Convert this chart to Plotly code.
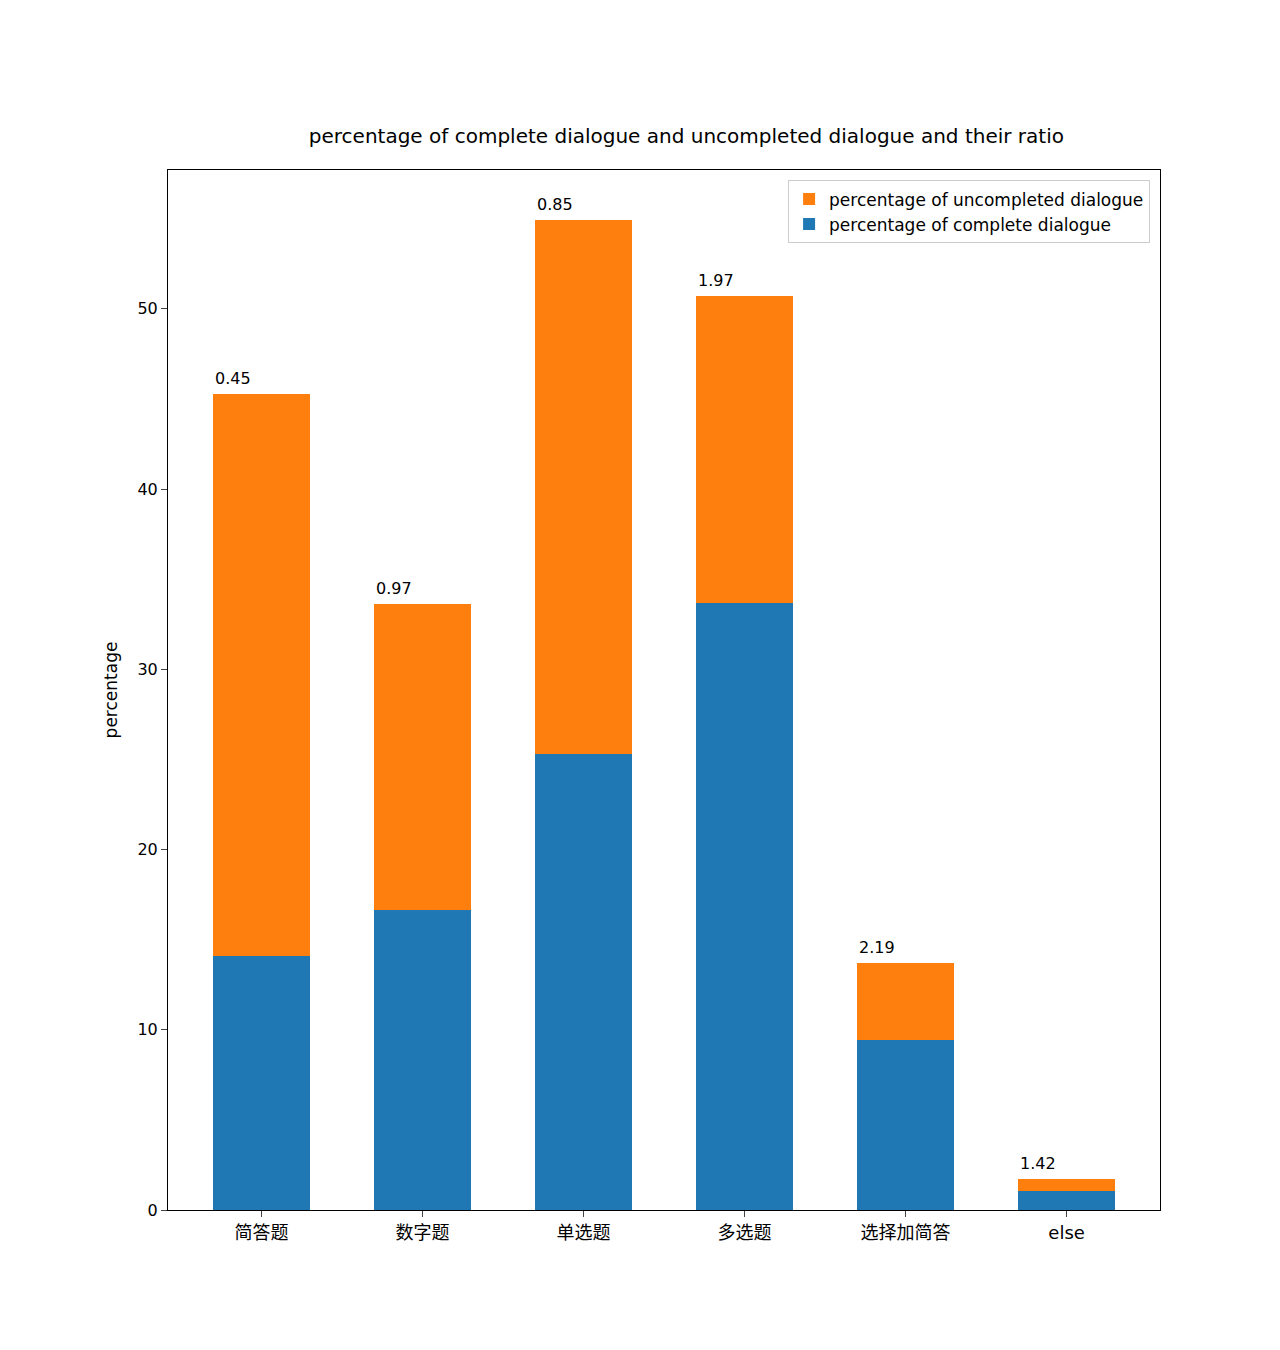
import plotly.graph_objects as go

categories = ["简答题", "数字题", "单选题", "多选题", "选择加简答", "else"]
complete = [14.1, 16.65, 25.3, 33.7, 9.43, 1.05]
uncompleted = [31.2, 16.95, 29.6, 17.0, 4.27, 0.67]
ratios = ["0.45", "0.97", "0.85", "1.97", "2.19", "1.42"]

x = list(range(len(categories)))
font = "DejaVu Sans, Noto Sans CJK SC"

fig = go.Figure()
fig.add_bar(x=x, y=complete, width=0.6, marker_color="#1f77b4", marker_line_width=0,
            name="percentage of complete dialogue")
fig.add_bar(x=x, y=uncompleted, width=0.6, marker_color="#ff7f0e", marker_line_width=0,
            name="percentage of uncompleted dialogue")

for i, r in enumerate(ratios):
    fig.add_annotation(x=i - 0.3, y=complete[i] + uncompleted[i], text=r, showarrow=False,
                       xanchor="left", yanchor="bottom", yshift=4, font=dict(size=16))

fig.update_layout(
    barmode="stack", width=1280, height=1350, plot_bgcolor="white", paper_bgcolor="white",
    margin=dict(l=160, r=128, t=162, b=148),
    font=dict(family=font, size=16, color="black"),
    title=dict(text="percentage of complete dialogue and uncompleted dialogue and their ratio",
               x=0.53, xanchor="center", y=0.9, yanchor="bottom", font=dict(size=20)),
    legend=dict(x=0.99, y=0.99, xanchor="right", yanchor="top", bordercolor="#cccccc",
                borderwidth=1, font=dict(size=17), bgcolor="rgba(255,255,255,0.8)"),
    bargap=0.4,
)
fig.update_xaxes(range=[-0.58, 5.58], tickvals=x, ticktext=categories, showline=True,
                 linecolor="black", mirror=True, ticks="outside", ticklen=6,
                 tickfont=dict(size=18), showgrid=False)
fig.update_yaxes(range=[0, 57.7], dtick=10, showline=True, linecolor="black", mirror=True,
                 ticks="outside", ticklen=6, showgrid=False, zeroline=False,
                 title=dict(text="percentage", font=dict(size=17)))

fig.write_html("out.html")
